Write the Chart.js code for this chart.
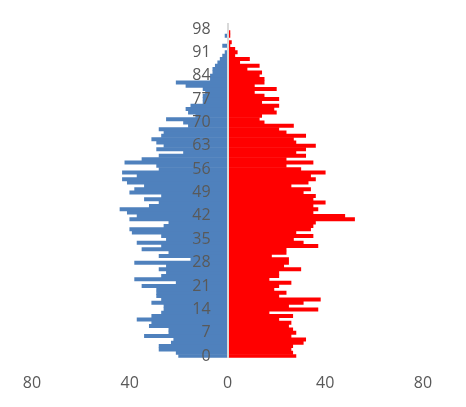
<!DOCTYPE html>
<html>
<head>
<meta charset="utf-8">
<script src="https://cdn.jsdelivr.net/npm/chart.js@4"></script>
<style>
body{margin:0;background:#fff}
#wrap{width:466px;height:407px}
</style>
</head>
<body>
<div id="wrap"><canvas id="pyramid" width="466" height="407"></canvas></div>
<script>

// umur 0..99
const ages = []
for(let i=0;i<100;i++){ ages.push(String(i)) }

// kiri (biru)
const leftValues = [
20,21,28,28,23,22,34,24,24,32,
31,37,31,27,26,26,31,27,29,29,
29,35,21,38,27,25,28,25,38,15,
28,24,35,27,37,25,27,39,40,26,
24,40,37,41,44,32,28,34,27,40,
38,34,41,43,37,43,28,29,42,35,
28,18,29,26,29,31,27,26,28,16,
18,25,13,16,17,15,10,10,10,9,
10,17,21,7,7,6,6,5,4,3,
2,1,0,2,0,0,1,0,0,0
]

// kanan (merah)
const rightValues = [
28,26.7,26,26.7,31,32,26,28,26.7,25,
26,21,26.7,17,37,25,31,38,21,24,
19,21,26,17,21,21,30,23,25,25,
18,24,24,37,31,27,35,28,34,35,
36,52,48,35,37,35,40,35,36,31,
34,26,33,36,34,40,30,24,35,24,
32,28,32,36,28,27,32,24,21,27,
15,13,14,20,19,21,14,21,15,11,
20,11,15,15,13,14,8,13,5,9,
3,4,3,1,1.6,0,1,1,0,0
]

const xTicks = [-80,-40,0,40,80]
const labelStep = 7

const font = {family:"'Open Sans', sans-serif", size:16}
const textColor = '#595959'

new Chart(document.getElementById("pyramid"),{
type:'bar',
data:{
labels:ages,
datasets:[{
data:leftValues.map(v=>-v),
backgroundColor:'#4f81bd',
borderWidth:0,
barPercentage:1,
categoryPercentage:1
},{
data:rightValues,
backgroundColor:'#ff0000',
borderWidth:0,
barPercentage:1,
categoryPercentage:1
}]
},
options:{
responsive:false,
animation:false,
indexAxis:'y',
layout:{padding:{left:32,right:43,top:24,bottom:-2}},
plugins:{legend:{display:false},tooltip:{enabled:false}},
scales:{
x:{
stacked:true,
min:xTicks[0],
max:xTicks[xTicks.length-1],
afterBuildTicks:axis=>{ axis.ticks = xTicks.map(v=>({value:v})) },
grid:{display:false,drawTicks:false},
border:{display:false},
ticks:{
padding:16,
font:font,
color:textColor,
callback:v=>Math.abs(v)
}
},
y:{
stacked:true,
reverse:true,
position:{x:-6.9},
grid:{display:false,drawTicks:false},
border:{display:false},
ticks:{
z:1,
autoSkip:false,
padding:0,
font:font,
color:textColor,
callback:(v,i)=> i % labelStep === 0 ? ages[i] : ''
}
},
yZero:{
type:'category',
axis:'y',
offset:true,
reverse:true,
position:{x:0},
grid:{display:false,drawTicks:false},
border:{display:true,color:'#d9d9d9',width:2,z:1},
ticks:{display:false}
}
}
}
})

</script>
</body>
</html>
